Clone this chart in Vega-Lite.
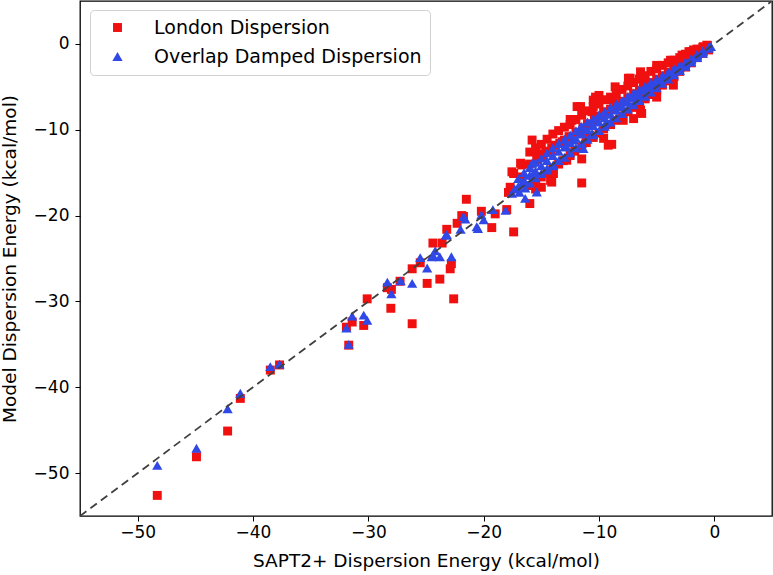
{
"$schema":"https://vega.github.io/schema/vega-lite/v6.json",
"width":692,"height":515,
"autosize":{"type":"none"},
"padding":{"left":80,"top":1,"right":1,"bottom":59},
"config":{"font":"DejaVu Sans","view":{"stroke":"#000000","strokeWidth":1.3},
"axis":{"grid":false,"domain":false,"tickColor":"#000000","tickSize":5,"labelColor":"#000000","titleColor":"#000000","labelFontSize":17,"titleFontSize":18.5,"titleFontWeight":"normal","labelFont":"DejaVu Sans","titleFont":"DejaVu Sans"}},
"layer":[
{"data":{"values":[
{"s":"L","x":-48.3,"y":-52.6},{"s":"L","x":-44.9,"y":-48.1},{"s":"L","x":-42.2,"y":-45.1},{"s":"L","x":-41.1,"y":-41.3},{"s":"L","x":-38.5,"y":-38.0},{"s":"L","x":-37.7,"y":-37.4},{"s":"L","x":-31.7,"y":-35.1},{"s":"L","x":-31.9,"y":-33.0},{"s":"L","x":-31.4,"y":-32.4},{"s":"L","x":-30.4,"y":-32.8},{"s":"L","x":-30.1,"y":-29.7},{"s":"L","x":-28.05,"y":-30.8},{"s":"L","x":-26.2,"y":-32.6},{"s":"L","x":-28.35,"y":-28.4},{"s":"L","x":-28.0,"y":-28.6},{"s":"L","x":-27.25,"y":-27.65},{"s":"L","x":-26.2,"y":-26.2},{"s":"L","x":-25.5,"y":-25.5},{"s":"L","x":-24.9,"y":-27.9},{"s":"L","x":-23.8,"y":-27.4},{"s":"L","x":-22.9,"y":-26.2},{"s":"L","x":-22.6,"y":-29.7},{"s":"L","x":-22.8,"y":-25.6},{"s":"L","x":-24.4,"y":-23.2},{"s":"L","x":-23.6,"y":-23.2},{"s":"L","x":-23.2,"y":-21.6},{"s":"L","x":-22.3,"y":-20.9},{"s":"L","x":-21.9,"y":-20.0},{"s":"L","x":-21.75,"y":-20.1},{"s":"L","x":-21.5,"y":-18.1},{"s":"L","x":-20.2,"y":-19.5},{"s":"L","x":-19.3,"y":-21.4},{"s":"L","x":-19.0,"y":-19.8},{"s":"L","x":-18.0,"y":-19.3},{"s":"L","x":-17.4,"y":-21.9},{"s":"L","x":-17.85,"y":-17.3},{"s":"L","x":-17.7,"y":-16.7},{"s":"L","x":-17.4,"y":-15.1},{"s":"L","x":-16.7,"y":-14.1},{"s":"L","x":-16.0,"y":-18.6},{"s":"L","x":-15.5,"y":-16.9},{"s":"L","x":-15.0,"y":-16.7},{"s":"L","x":-14.1,"y":-16.1},{"s":"L","x":-11.5,"y":-16.2},{"s":"L","x":-15.8,"y":-11.2},{"s":"L","x":-15.25,"y":-12.8},{"s":"L","x":-16.8,"y":-13.9},{"s":"L","x":-17.55,"y":-14.9},{"s":"L","x":-16.7,"y":-15.5},{"s":"L","x":-14.2,"y":-15.9},{"s":"L","x":-14.2,"y":-12.6},{"s":"L","x":-13.8,"y":-11.8},{"s":"L","x":-13.2,"y":-11.4},{"s":"L","x":-12.35,"y":-8.9},{"s":"L","x":-11.6,"y":-7.3},{"s":"L","x":-11.5,"y":-13.4},{"s":"L","x":-11.05,"y":-10.8},{"s":"L","x":-10.3,"y":-6.2},{"s":"L","x":-10.0,"y":-6.0},{"s":"L","x":-10.6,"y":-7.9},{"s":"L","x":-9.6,"y":-7.9},{"s":"L","x":-9.6,"y":-11.0},{"s":"L","x":-9.2,"y":-11.8},{"s":"L","x":-8.9,"y":-11.7},{"s":"L","x":-12.8,"y":-13.55},{"s":"L","x":-13.95,"y":-15.1},{"s":"L","x":-12.5,"y":-8.8},{"s":"L","x":-10.5,"y":-6.55},{"s":"L","x":-8.6,"y":-5.0},{"s":"L","x":-8.75,"y":-6.55},{"s":"L","x":-7.3,"y":-4.0},{"s":"L","x":-6.4,"y":-3.25},{"s":"L","x":-6.15,"y":-4.6},{"s":"L","x":-5.0,"y":-2.5},{"s":"L","x":-3.8,"y":-1.9},{"s":"L","x":-2.8,"y":-1.3},{"s":"L","x":-1.8,"y":-0.7},{"s":"L","x":-0.65,"y":-0.15},{"s":"L","x":-6.3,"y":-8.1},{"s":"L","x":-7.0,"y":-8.7},{"s":"L","x":-6.4,"y":-7.7},{"s":"L","x":-7.9,"y":-8.9},{"s":"L","x":-3.55,"y":-4.8},{"s":"L","x":-5.0,"y":-6.2},{"s":"L","x":-11.9,"y":-7.3},{"s":"L","x":-7.45,"y":-4.0},{"s":"L","x":-2.2,"y":-0.9},{"s":"L","x":-0.95,"y":-0.33},
{"s":"L","x":-16.0,"y":-12.6},{"s":"L","x":-16.0,"y":-14.0},{"s":"L","x":-16.1,"y":-16.5},
{"s":"L","x":-15.5,"y":-12.1},{"s":"L","x":-15.4,"y":-13.5},{"s":"L","x":-15.5,"y":-16.0},
{"s":"L","x":-15.0,"y":-11.7},{"s":"L","x":-14.9,"y":-13.0},{"s":"L","x":-15.0,"y":-15.5},
{"s":"L","x":-14.5,"y":-11.1},{"s":"L","x":-14.6,"y":-12.5},{"s":"L","x":-14.5,"y":-15.0},
{"s":"L","x":-14.0,"y":-10.5},{"s":"L","x":-14.1,"y":-12.1},{"s":"L","x":-14.0,"y":-14.5},
{"s":"L","x":-13.5,"y":-10.1},{"s":"L","x":-13.4,"y":-11.6},{"s":"L","x":-13.5,"y":-14.0},
{"s":"L","x":-13.0,"y":-9.7},{"s":"L","x":-13.0,"y":-11.2},{"s":"L","x":-13.1,"y":-13.6},
{"s":"L","x":-12.5,"y":-9.4},{"s":"L","x":-12.6,"y":-10.8},{"s":"L","x":-12.5,"y":-13.0},
{"s":"L","x":-12.0,"y":-8.8},{"s":"L","x":-12.0,"y":-10.3},{"s":"L","x":-12.1,"y":-12.5},
{"s":"L","x":-11.5,"y":-8.3},{"s":"L","x":-11.4,"y":-9.8},{"s":"L","x":-11.5,"y":-12.0},
{"s":"L","x":-11.0,"y":-7.8},{"s":"L","x":-11.0,"y":-9.3},{"s":"L","x":-11.1,"y":-11.5},
{"s":"L","x":-10.5,"y":-7.3},{"s":"L","x":-10.4,"y":-8.9},{"s":"L","x":-10.5,"y":-10.9},
{"s":"L","x":-10.0,"y":-7.0},{"s":"L","x":-10.1,"y":-8.4},{"s":"L","x":-10.0,"y":-10.4},
{"s":"L","x":-9.5,"y":-6.5},{"s":"L","x":-9.5,"y":-8.0},{"s":"L","x":-9.6,"y":-9.9},
{"s":"L","x":-9.0,"y":-6.2},{"s":"L","x":-9.0,"y":-7.6},{"s":"L","x":-9.0,"y":-9.4},
{"s":"L","x":-8.5,"y":-5.8},{"s":"L","x":-8.5,"y":-7.1},{"s":"L","x":-8.6,"y":-8.9},
{"s":"L","x":-8.0,"y":-5.3},{"s":"L","x":-8.0,"y":-6.7},{"s":"L","x":-8.0,"y":-8.4},
{"s":"L","x":-7.5,"y":-4.9},{"s":"L","x":-7.5,"y":-6.3},{"s":"L","x":-7.5,"y":-7.9},
{"s":"L","x":-7.0,"y":-4.5},{"s":"L","x":-7.0,"y":-5.8},{"s":"L","x":-7.0,"y":-7.4},
{"s":"L","x":-6.5,"y":-4.1},{"s":"L","x":-6.5,"y":-5.4},{"s":"L","x":-6.5,"y":-6.9},
{"s":"L","x":-6.0,"y":-3.7},{"s":"L","x":-6.0,"y":-5.0},{"s":"L","x":-6.0,"y":-6.4},
{"s":"L","x":-5.5,"y":-3.2},{"s":"L","x":-5.5,"y":-4.5},{"s":"L","x":-5.5,"y":-5.9},
{"s":"L","x":-5.0,"y":-2.9},{"s":"L","x":-5.0,"y":-4.1},{"s":"L","x":-5.0,"y":-5.4},
{"s":"L","x":-4.5,"y":-2.5},{"s":"L","x":-4.5,"y":-3.7},{"s":"L","x":-4.5,"y":-4.8},
{"s":"L","x":-4.0,"y":-2.2},{"s":"L","x":-4.0,"y":-3.3},{"s":"L","x":-4.0,"y":-4.3},
{"s":"L","x":-3.5,"y":-1.9},{"s":"L","x":-3.5,"y":-2.9},{"s":"L","x":-3.5,"y":-3.8},
{"s":"L","x":-3.0,"y":-1.6},{"s":"L","x":-3.0,"y":-2.5},{"s":"L","x":-3.0,"y":-3.2},
{"s":"L","x":-2.5,"y":-1.2},{"s":"L","x":-2.5,"y":-2.1},{"s":"L","x":-2.5,"y":-2.7},
{"s":"L","x":-2.0,"y":-0.9},{"s":"L","x":-2.0,"y":-1.6},{"s":"L","x":-2.0,"y":-2.2},
{"s":"L","x":-1.5,"y":-0.6},{"s":"L","x":-1.5,"y":-1.2},{"s":"L","x":-1.5,"y":-1.6},
{"s":"L","x":-1.0,"y":-0.4},{"s":"L","x":-1.0,"y":-0.8},{"s":"L","x":-1.0,"y":-1.1},
{"s":"L","x":-0.6,"y":-0.2},{"s":"L","x":-0.6,"y":-0.5},{"s":"L","x":-0.5,"y":-0.7},
{"s":"O","x":-48.3,"y":-49.1},{"s":"O","x":-44.9,"y":-47.1},{"s":"O","x":-42.2,"y":-42.5},{"s":"O","x":-41.1,"y":-40.7},{"s":"O","x":-38.5,"y":-37.6},{"s":"O","x":-37.7,"y":-37.3},{"s":"O","x":-31.7,"y":-35.0},{"s":"O","x":-31.9,"y":-33.1},{"s":"O","x":-31.4,"y":-31.7},{"s":"O","x":-30.4,"y":-31.6},{"s":"O","x":-30.1,"y":-32.2},{"s":"O","x":-28.35,"y":-27.75},{"s":"O","x":-28.0,"y":-29.1},{"s":"O","x":-27.2,"y":-27.6},{"s":"O","x":-26.2,"y":-27.9},{"s":"O","x":-25.5,"y":-24.9},{"s":"O","x":-24.9,"y":-26.1},{"s":"O","x":-22.8,"y":-24.8},{"s":"O","x":-24.5,"y":-24.8},{"s":"O","x":-23.8,"y":-24.8},{"s":"O","x":-24.4,"y":-24.6},{"s":"O","x":-24.2,"y":-24.1},{"s":"O","x":-23.3,"y":-22.3},{"s":"O","x":-23.2,"y":-22.2},{"s":"O","x":-22.0,"y":-21.6},{"s":"O","x":-21.75,"y":-20.1},{"s":"O","x":-21.6,"y":-20.4},{"s":"O","x":-20.6,"y":-21.3},{"s":"O","x":-20.5,"y":-21.5},{"s":"O","x":-20.0,"y":-20.5},{"s":"O","x":-20.2,"y":-19.9},{"s":"O","x":-19.2,"y":-19.3},{"s":"O","x":-18.1,"y":-19.4},{"s":"O","x":-17.55,"y":-17.4},{"s":"O","x":-17.3,"y":-16.9},{"s":"O","x":-16.55,"y":-16.3},{"s":"O","x":-16.4,"y":-18.0},{"s":"O","x":-15.7,"y":-15.3},{"s":"O","x":-15.4,"y":-17.25},{"s":"O","x":-15.8,"y":-13.9},{"s":"O","x":-16.7,"y":-16.3},{"s":"O","x":-15.7,"y":-15.1},{"s":"O","x":-14.5,"y":-14.5},{"s":"O","x":-13.95,"y":-14.1},{"s":"O","x":-12.8,"y":-12.0},{"s":"O","x":-12.2,"y":-11.2},{"s":"O","x":-11.6,"y":-9.7},{"s":"O","x":-11.35,"y":-12.2},{"s":"O","x":-10.6,"y":-10.4},{"s":"O","x":-10.0,"y":-8.3},{"s":"O","x":-9.45,"y":-9.3},
{"s":"O","x":-17.0,"y":-15.7},{"s":"O","x":-17.0,"y":-16.6},{"s":"O","x":-16.9,"y":-17.3},
{"s":"O","x":-16.5,"y":-15.0},{"s":"O","x":-16.5,"y":-15.9},{"s":"O","x":-16.4,"y":-16.8},
{"s":"O","x":-16.0,"y":-14.4},{"s":"O","x":-16.0,"y":-15.3},{"s":"O","x":-16.0,"y":-16.2},
{"s":"O","x":-15.5,"y":-13.8},{"s":"O","x":-15.5,"y":-14.8},{"s":"O","x":-15.5,"y":-15.6},
{"s":"O","x":-15.0,"y":-13.3},{"s":"O","x":-15.0,"y":-14.2},{"s":"O","x":-15.0,"y":-15.1},
{"s":"O","x":-14.5,"y":-12.7},{"s":"O","x":-14.5,"y":-13.6},{"s":"O","x":-14.5,"y":-14.7},
{"s":"O","x":-14.0,"y":-12.1},{"s":"O","x":-14.0,"y":-13.0},{"s":"O","x":-14.0,"y":-14.2},
{"s":"O","x":-13.5,"y":-11.6},{"s":"O","x":-13.5,"y":-12.5},{"s":"O","x":-13.5,"y":-13.6},
{"s":"O","x":-13.0,"y":-11.1},{"s":"O","x":-13.0,"y":-12.0},{"s":"O","x":-13.0,"y":-13.2},
{"s":"O","x":-12.5,"y":-10.6},{"s":"O","x":-12.5,"y":-11.5},{"s":"O","x":-12.5,"y":-12.7},
{"s":"O","x":-12.0,"y":-10.1},{"s":"O","x":-12.0,"y":-11.0},{"s":"O","x":-12.0,"y":-12.1},
{"s":"O","x":-11.5,"y":-9.6},{"s":"O","x":-11.5,"y":-10.5},{"s":"O","x":-11.5,"y":-11.6},
{"s":"O","x":-11.0,"y":-9.1},{"s":"O","x":-11.0,"y":-10.0},{"s":"O","x":-11.0,"y":-11.1},
{"s":"O","x":-10.5,"y":-8.7},{"s":"O","x":-10.5,"y":-9.5},{"s":"O","x":-10.5,"y":-10.6},
{"s":"O","x":-10.0,"y":-8.3},{"s":"O","x":-10.0,"y":-9.1},{"s":"O","x":-10.0,"y":-10.1},
{"s":"O","x":-9.5,"y":-7.9},{"s":"O","x":-9.5,"y":-8.6},{"s":"O","x":-9.5,"y":-9.6},
{"s":"O","x":-9.0,"y":-7.4},{"s":"O","x":-9.0,"y":-8.2},{"s":"O","x":-9.0,"y":-9.1},
{"s":"O","x":-8.5,"y":-7.0},{"s":"O","x":-8.5,"y":-7.7},{"s":"O","x":-8.5,"y":-8.6},
{"s":"O","x":-8.0,"y":-6.6},{"s":"O","x":-8.0,"y":-7.3},{"s":"O","x":-8.0,"y":-8.1},
{"s":"O","x":-7.5,"y":-6.1},{"s":"O","x":-7.5,"y":-6.8},{"s":"O","x":-7.5,"y":-7.6},
{"s":"O","x":-7.0,"y":-5.7},{"s":"O","x":-7.0,"y":-6.3},{"s":"O","x":-7.0,"y":-7.1},
{"s":"O","x":-6.5,"y":-5.3},{"s":"O","x":-6.5,"y":-5.9},{"s":"O","x":-6.5,"y":-6.6},
{"s":"O","x":-6.0,"y":-4.9},{"s":"O","x":-6.0,"y":-5.4},{"s":"O","x":-6.0,"y":-6.1},
{"s":"O","x":-5.5,"y":-4.5},{"s":"O","x":-5.5,"y":-5.0},{"s":"O","x":-5.5,"y":-5.6},
{"s":"O","x":-5.0,"y":-4.1},{"s":"O","x":-5.0,"y":-4.5},{"s":"O","x":-5.0,"y":-5.1},
{"s":"O","x":-4.5,"y":-3.7},{"s":"O","x":-4.5,"y":-4.1},{"s":"O","x":-4.5,"y":-4.6},
{"s":"O","x":-4.0,"y":-3.3},{"s":"O","x":-4.0,"y":-3.6},{"s":"O","x":-4.0,"y":-4.1},
{"s":"O","x":-3.5,"y":-2.9},{"s":"O","x":-3.5,"y":-3.2},{"s":"O","x":-3.5,"y":-3.6},
{"s":"O","x":-3.0,"y":-2.5},{"s":"O","x":-3.0,"y":-2.7},{"s":"O","x":-3.0,"y":-3.1},
{"s":"O","x":-2.5,"y":-2.1},{"s":"O","x":-2.5,"y":-2.3},{"s":"O","x":-2.5,"y":-2.6},
{"s":"O","x":-2.0,"y":-1.7},{"s":"O","x":-2.0,"y":-1.8},{"s":"O","x":-2.0,"y":-2.1},
{"s":"O","x":-1.5,"y":-1.2},{"s":"O","x":-1.5,"y":-1.4},{"s":"O","x":-1.5,"y":-1.6},
{"s":"O","x":-1.0,"y":-0.8},{"s":"O","x":-1.0,"y":-0.9},{"s":"O","x":-1.0,"y":-1.1},
{"s":"O","x":-0.5,"y":-0.4},{"s":"O","x":-0.5,"y":-0.5},{"s":"O","x":-0.3,"y":-0.3}
]},
"mark":{"type":"point","filled":true,"opacity":1},
"encoding":{
"x":{"field":"x","type":"quantitative","scale":{"domain":[-55,5],"nice":false,"zero":false},"axis":{"values":[-50,-40,-30,-20,-10,0],"title":"SAPT2+ Dispersion Energy (kcal/mol)","labelPadding":3,"titlePadding":11,"format":"d","labelExpr":"replace(datum.label,'-','\u2212')"}},
"y":{"field":"y","type":"quantitative","scale":{"domain":[-55,5],"nice":false,"zero":false},"axis":{"values":[-50,-40,-30,-20,-10,0],"title":"Model Dispersion Energy (kcal/mol)","labelPadding":6,"titlePadding":14,"format":"d","labelExpr":"replace(datum.label,'-','\u2212')"}},
"size":{"field":"s","type":"nominal","scale":{"domain":["L","O"],"range":[80,105]},"legend":null},
"color":{"field":"s","type":"nominal","scale":{"domain":["L","O"],"range":["#f01010","#2f48e6"]},"legend":{"title":null,"orient":"none","legendX":10,"legendY":9,"labelExpr":"datum.label == 'L' ? 'London Dispersion' : 'Overlap Damped Dispersion'","labelFontSize":19,"labelLimit":500,"labelColor":"#000000","labelOffset":27,"symbolSize":50,"symbolOffset":10,"rowPadding":9,"padding":8,"fillColor":"rgba(255,255,255,0.85)","strokeColor":"#d0d0d0","cornerRadius":4,"symbolOpacity":1}},
"shape":{"field":"s","type":"nominal","scale":{"domain":["L","O"],"range":["square","triangle-up"]}}
}},
{"data":{"values":[{"x":-55,"y":-55},{"x":5,"y":5}]},
"mark":{"type":"line","color":"#404040","strokeDash":[8,5],"strokeWidth":1.8,"clip":true},
"encoding":{"x":{"field":"x","type":"quantitative"},"y":{"field":"y","type":"quantitative"}}}
]
}
